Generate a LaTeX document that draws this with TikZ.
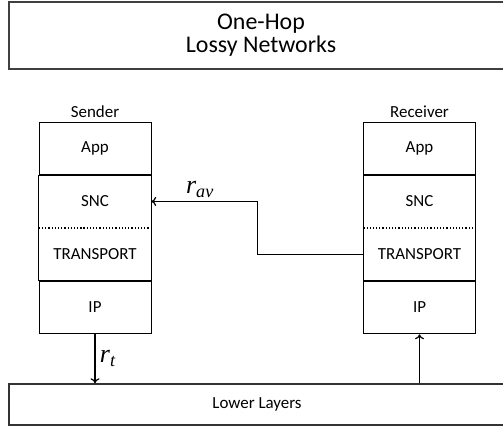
\documentclass[tikz,border=0pt]{standalone}
\usepackage{fontspec}
\setmainfont{Carlito}
\newfontfamily\timesfont{Liberation Serif}
\usepackage{tikz}
\usetikzlibrary{positioning,arrows.meta}

\begin{document}
\begin{tikzpicture}[x=1bp,y=-1bp,>={To[length=5bp,width=9bp]}]
\useasboundingbox (0,0) rectangle (503,428);

\node (net) [rectangle, draw=black!75, line width=1.5bp, align=center,
    minimum width=504bp, minimum height=67bp, font=\fontsize{24}{23}\selectfont]
    at (261,35.5) {One-Hop\\Lossy Networks};

\node (lower) [rectangle, draw=black!80, line width=1.5bp,
    minimum width=496bp, minimum height=41bp, font=\fontsize{17}{20}\selectfont]
    at (257,404.5) {Lower Layers};

 \begin{scope}[]
\node (snd-app) [rectangle, draw, line width=1bp,
    minimum height=52.5bp, minimum width=112bp, font=\fontsize{17}{20}\selectfont]
    at (95,148.25) {App};
\node (snd-snc) [rectangle,
    minimum height=52.5bp, minimum width=112bp, font=\fontsize{17}{20}\selectfont,
    below=0pt of snd-app] {SNC};
\node (snd-transport) [rectangle,
    minimum height=52.5bp, minimum width=112bp, font=\fontsize{17}{20}\selectfont,
    below=0pt of snd-snc] {TRANSPORT};
\node (snd-ip) [rectangle, draw, line width=1bp,
    minimum height=52.5bp, minimum width=112bp, font=\fontsize{17}{20}\selectfont,
    below=0pt of snd-transport] {IP};
\draw[line width=1bp] (snd-snc.north west) rectangle (snd-transport.south east);
\draw[line width=1.2bp, dotted] (snd-snc.south west) -- (snd-snc.south east);
\node (snd-label) [font=\fontsize{17}{20}\selectfont, above=0bp of snd-app] {Sender};
\end{scope}

 \begin{scope}[xshift=324.5bp]
\node (rcv-app) [rectangle, draw, line width=1bp,
    minimum height=52.5bp, minimum width=112bp, font=\fontsize{17}{20}\selectfont]
    at (95,148.25) {App};
\node (rcv-snc) [rectangle,
    minimum height=52.5bp, minimum width=112bp, font=\fontsize{17}{20}\selectfont,
    below=0pt of rcv-app] {SNC};
\node (rcv-transport) [rectangle,
    minimum height=52.5bp, minimum width=112bp, font=\fontsize{17}{20}\selectfont,
    below=0pt of rcv-snc] {TRANSPORT};
\node (rcv-ip) [rectangle, draw, line width=1bp,
    minimum height=52.5bp, minimum width=112bp, font=\fontsize{17}{20}\selectfont,
    below=0pt of rcv-transport] {IP};
\draw[line width=1bp] (rcv-snc.north west) rectangle (rcv-transport.south east);
\draw[line width=1.2bp, dotted] (rcv-snc.south west) -- (rcv-snc.south east);
\node (rcv-label) [font=\fontsize{17}{20}\selectfont, above=0bp of rcv-app] {Receiver};
\end{scope}

% feedback rate
\draw[->, line width=1.2bp] (rcv-transport.west) -- ++(-106,0) |- (snd-snc.east)
    node (rav) [pos=0.77, above=0bp, font=\fontsize{26}{28}\selectfont]
    {\timesfont\itshape r\textsubscript{av}};

% sending rate
\draw[->, line width=1.2bp] (snd-ip.south) -- (snd-ip.south |- lower.north)
    node (rt) [midway, right=1bp, font=\fontsize{26}{28}\selectfont]
    {\timesfont\itshape r\textsubscript{t}};
\draw[->, line width=1.2bp] (rcv-ip.south |- lower.north) -- (rcv-ip.south);
\end{tikzpicture}
\end{document}
